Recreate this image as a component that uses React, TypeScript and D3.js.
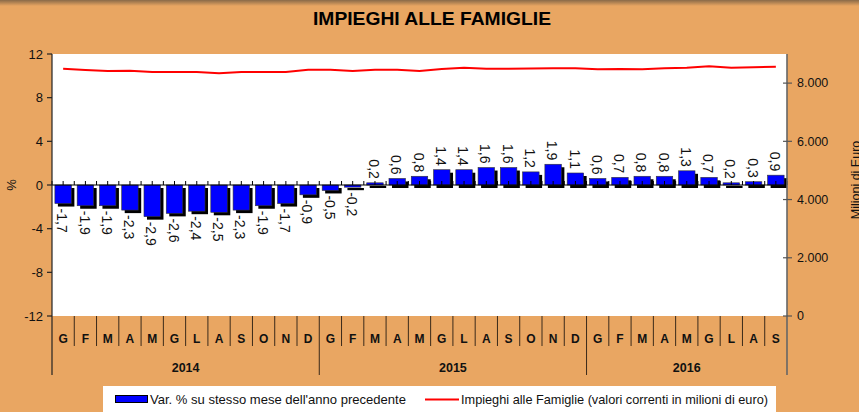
import React from "react";
import * as d3 from "d3";

const title = "IMPIEGHI ALLE FAMIGLIE";
const years = ["2014", "2015", "2016"];
const monthsPerYear = [12, 12, 9];
const monthLabels = [
  "G", "F", "M", "A", "M", "G", "L", "A", "S", "O", "N", "D",
  "G", "F", "M", "A", "M", "G", "L", "A", "S", "O", "N", "D",
  "G", "F", "M", "A", "M", "G", "L", "A", "S",
];
const pctChange = [
  -1.7, -1.9, -1.9, -2.3, -2.9, -2.6, -2.4, -2.5, -2.3, -1.9, -1.7, -0.9,
  -0.5, -0.2, 0.2, 0.6, 0.8, 1.4, 1.4, 1.6, 1.6, 1.2, 1.9, 1.1,
  0.6, 0.7, 0.8, 0.8, 1.3, 0.7, 0.2, 0.3, 0.9,
];
const loans = [
  8490, 8450, 8420, 8425, 8380, 8380, 8380, 8340, 8380, 8380, 8380, 8460,
  8460, 8420, 8460, 8460, 8420, 8485, 8530, 8495, 8495, 8505, 8510, 8510,
  8475, 8485, 8475, 8510, 8530, 8575, 8530, 8545, 8565,
];
const leftTicks = [-12, -8, -4, 0, 4, 8, 12];
const rightTicks = [0, 2000, 4000, 6000, 8000];
const legendBar = "Var. % su stesso mese dell'anno precedente";
const legendLine = "Impieghi alle Famiglie (valori correnti in milioni di euro)";
const leftTitle = "%";
const rightTitle = "Milioni di Euro";

const W = 859;
const H = 412;
const BG = "#E9A662";
const FONT = "Arial, 'Liberation Sans', sans-serif";

const it = d3.formatLocale({
  decimal: ",",
  thousands: ".",
  grouping: [3],
  currency: ["€", ""],
  minus: "-",
});
const fmtPct = it.format(".1f");
const fmtThousands = it.format(",.0f");

export default function App() {
  const left = 52;
  const right = 787;
  const top = 54;
  const bottom = 316;
  const monthBandBottom = 346;
  const yearBandBottom = 375;

  const idx = d3.range(monthLabels.length);
  const x = d3
    .scaleBand<number>()
    .domain(idx)
    .range([left, right])
    .paddingInner(0.26)
    .paddingOuter(0.13);
  const step = x.step();
  const boundary = (i: number) => left + i * step;
  const center = (i: number) => (x(i) as number) + x.bandwidth() / 2;

  const yL = d3.scaleLinear().domain([-12, 12]).range([bottom, top]);
  const yR = d3.scaleLinear().domain([0, 9000]).range([bottom, top]);
  const y0 = yL(0);

  const line = d3
    .line<number>()
    .x((_, i) => center(i))
    .y((d) => yR(d));

  const yearStarts: number[] = [];
  let acc = 0;
  monthsPerYear.forEach((n) => {
    yearStarts.push(acc);
    acc += n;
  });

  const sh = 3;

  return (
    <div style={{ position: "absolute", left: 0, top: 0 }}>
      <svg width={W} height={H} style={{ display: "block", fontFamily: FONT }}>
        <defs>
          <linearGradient id="topShade" x1="0" y1="0" x2="0" y2="1">
            <stop offset="0" stopColor="#8a6a48" />
            <stop offset="1" stopColor={BG} />
          </linearGradient>
        </defs>
        <rect x={0} y={0} width={W} height={H} fill={BG} />
        <rect x={0} y={0} width={W} height={6} fill="url(#topShade)" />

        <text
          x={432}
          y={25}
          textAnchor="middle"
          fontSize={19}
          fontWeight="bold"
          textLength={238}
          lengthAdjust="spacingAndGlyphs"
          fill="#000"
        >
          {title}
        </text>

        {/* plot area */}
        <rect x={left} y={top} width={right - left} height={bottom - top} fill="#fff" />

        {/* bars with shadow */}
        {pctChange.map((v, i) => {
          const bx = x(i) as number;
          const y1 = Math.min(yL(v), y0);
          const h = Math.abs(yL(v) - y0);
          return (
            <g key={"b" + i}>
              <rect x={bx + sh} y={y1 + sh} width={x.bandwidth()} height={h} fill="#000" />
              <rect
                x={bx}
                y={y1}
                width={x.bandwidth()}
                height={h}
                fill="#0000FF"
                stroke="#333"
                strokeWidth={0.6}
              />
            </g>
          );
        })}

        {/* zero line with ticks */}
        <line x1={left} x2={right} y1={y0} y2={y0} stroke="#000" strokeWidth={1.2} />
        {d3.range(0, monthLabels.length * 2 + 1).map((k) => {
          const xx = left + (k * step) / 2;
          return <line key={"zt" + k} x1={xx} x2={xx} y1={y0 - 4} y2={y0} stroke="#000" strokeWidth={1} />;
        })}

        {/* value labels */}
        {pctChange.map((v, i) => {
          const cx = center(i) - 1;
          const yy = v < 0 ? yL(v) + sh + 2 : yL(v) - 4;
          return (
            <text
              key={"l" + i}
              transform={`translate(${cx},${yy}) rotate(90)`}
              textAnchor={v < 0 ? "start" : "end"}
              dy="0.35em"
              fontSize={14}
              fill="#111"
            >
              {fmtPct(v)}
            </text>
          );
        })}

        {/* line series */}
        <path d={line(loans) || ""} fill="none" stroke="#FF0000" strokeWidth={2} />

        {/* left axis */}
        <line x1={left} x2={left} y1={top} y2={yearBandBottom} stroke="#222" strokeWidth={1.2} />
        {leftTicks.map((t) => (
          <g key={"lt" + t}>
            <line x1={left - 5} x2={left} y1={yL(t)} y2={yL(t)} stroke="#222" strokeWidth={1.2} />
            <text x={left - 9} y={yL(t)} dy="0.35em" textAnchor="end" fontSize={13} fill="#111">
              {t}
            </text>
          </g>
        ))}
        <text transform={`translate(${16},${y0}) rotate(-90)`} textAnchor="middle" fontSize={13} fill="#111">
          {leftTitle}
        </text>

        {/* right axis */}
        <line x1={right} x2={right} y1={top} y2={yearBandBottom} stroke="#666" strokeWidth={1.6} />
        {rightTicks.map((t) => (
          <g key={"rt" + t}>
            <line x1={right - 4} x2={right + 5} y1={yR(t)} y2={yR(t)} stroke="#555" strokeWidth={1.2} />
            <text x={right + 10} y={yR(t)} dy="0.35em" textAnchor="start" fontSize={12.5} fill="#111">
              {fmtThousands(t)}
            </text>
          </g>
        ))}
        <text transform={`translate(${860},${180}) rotate(-90)`} textAnchor="middle" fontSize={12.5} fill="#111">
          {rightTitle}
        </text>

        {/* category band */}
        {d3.range(1, monthLabels.length).map((k) => {
          const isYear = yearStarts.includes(k);
          const xx = boundary(k);
          return (
            <line
              key={"md" + k}
              x1={xx}
              x2={xx}
              y1={bottom}
              y2={isYear ? yearBandBottom : monthBandBottom}
              stroke="#3a2a1a"
              strokeWidth={1}
            />
          );
        })}
        {monthLabels.map((m, i) => (
          <text key={"m" + i} x={center(i)} y={339} dy="0.35em" textAnchor="middle" fontSize={12} fontWeight="bold" fill="#111">
            {m}
          </text>
        ))}
        {years.map((yv, j) => {
          const s = yearStarts[j];
          const e = s + monthsPerYear[j];
          const cx = (boundary(s) + boundary(e)) / 2;
          return (
            <text key={"y" + yv} x={cx} y={368} dy="0.35em" textAnchor="middle" fontSize={12.5} fontWeight="bold" fill="#111">
              {yv}
            </text>
          );
        })}

        {/* legend */}
        <rect x={103} y={386} width={673} height={30} fill="#fff" />
        <rect x={115.5} y={395.5} width={32} height={7} fill="#0000FF" stroke="#000" strokeWidth={1} />
        <text x={150} y={399} dy="0.35em" fontSize={13} fill="#111" textLength={256} lengthAdjust="spacingAndGlyphs">
          {legendBar}
        </text>
        <line x1={425} x2={459} y1={399.5} y2={399.5} stroke="#FF0000" strokeWidth={2} />
        <text x={461} y={399} dy="0.35em" fontSize={13} fill="#111" textLength={307} lengthAdjust="spacingAndGlyphs">
          {legendLine}
        </text>
      </svg>
    </div>
  );
}
